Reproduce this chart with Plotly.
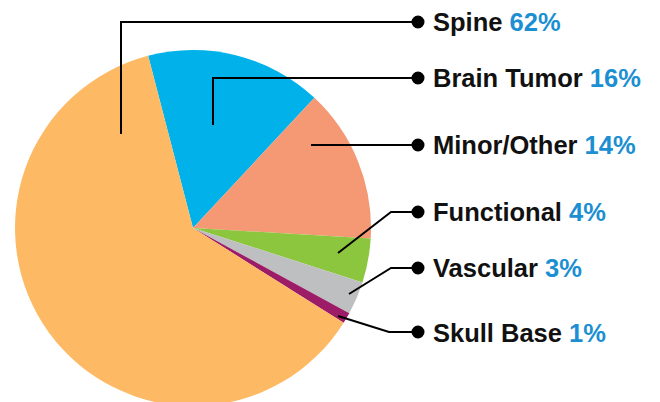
import plotly.graph_objects as go

W, H = 660, 402
OFF = 8  # the page body adds an 8px margin around the figure

labels = ["Brain Tumor", "Minor/Other", "Functional", "Vascular", "Skull Base", "Spine"]
values = [16, 14, 4, 3, 1, 62]
colors = ["#00B2E9", "#F59874", "#8CC63F", "#BEBFC1", "#9C1C67", "#FDB963"]

# label order on the right, top to bottom
legend_order = ["Spine", "Brain Tumor", "Minor/Other", "Functional", "Vascular", "Skull Base"]
label_y = [22, 78, 145, 212, 268, 333]

# leader lines in pixels: point in slice -> elbow -> dot
leaders = {
    "Spine": [(121, 134), (121, 22), (418, 22)],
    "Brain Tumor": [(213, 125), (213, 78), (418, 78)],
    "Minor/Other": [(311, 145), (418, 145)],
    "Functional": [(338, 253), (391, 212), (418, 212)],
    "Vascular": [(349, 294), (391, 268), (418, 268)],
    "Skull Base": [(338, 316), (389, 332), (418, 332)],
}


def px(x):
    return (x - OFF) / W


def py(y):
    return 1 - (y - OFF) / H


fig = go.Figure()
fig.add_trace(go.Pie(
    labels=labels,
    values=values,
    marker=dict(colors=colors, line=dict(width=0)),
    sort=False,
    direction="clockwise",
    rotation=-14.6,
    textinfo="none",
    hoverinfo="label+percent",
    domain=dict(x=[px(15), px(371)], y=[py(406), py(50)]),
    showlegend=False,
))

pct = dict(zip(labels, values))
shapes = []
annotations = []
for name, y in zip(legend_order, label_y):
    pts = leaders[name]
    path = "M " + " L ".join(f"{px(x):.5f},{py(yy):.5f}" for x, yy in pts)
    shapes.append(dict(type="path", xref="paper", yref="paper", path=path,
                       line=dict(color="#000000", width=2)))
    dx, dy = pts[-1]
    r = 6.5
    shapes.append(dict(type="circle", xref="paper", yref="paper",
                       x0=px(dx - r), x1=px(dx + r), y0=py(dy + r), y1=py(dy - r),
                       fillcolor="#000000", line=dict(width=0)))
    annotations.append(dict(
        x=px(431), y=py(y), xref="paper", yref="paper",
        xanchor="left", yanchor="middle", showarrow=False,
        text=f"<b>{name}</b> <b><span style='color:#1B8FD2'>{pct[name]}%</span></b>",
        font=dict(family="Liberation Sans, Arial, sans-serif", size=25.5, color="#111111"),
    ))

fig.update_layout(
    width=W, height=H,
    margin=dict(l=0, r=0, t=0, b=0),
    paper_bgcolor="white",
    plot_bgcolor="white",
    shapes=shapes,
    annotations=annotations,
)

fig.write_html("out.html")
